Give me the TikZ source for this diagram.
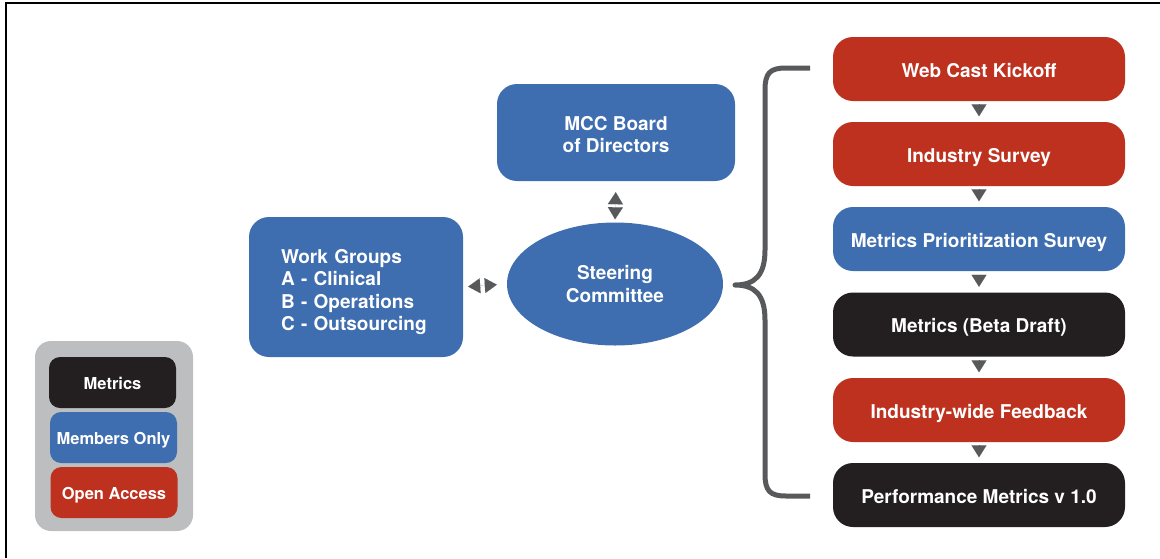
\documentclass[tikz,border=0pt]{standalone}
\usepackage{fontspec}
\setmainfont{TeX Gyre Heros}
\usetikzlibrary{arrows.meta,shapes.geometric}
\definecolor{cred}{RGB}{190,49,30}
\definecolor{cblue}{RGB}{63,110,176}
\definecolor{cblack}{RGB}{35,31,32}
\definecolor{cgray}{RGB}{88,89,91}
\definecolor{lgray}{RGB}{189,190,192}
\tikzset{
  box/.style={rounded corners=20pt, text=white, align=center, inner sep=0pt,
    font=\bfseries\fontsize{19}{22.5}\selectfont},
  stagebox/.style={box, minimum width=292pt, minimum height=64pt, text height=16pt, text depth=0pt},
  legbox/.style={box, rounded corners=11pt, minimum width=127pt, minimum height=51pt,
    font=\bfseries\fontsize{16.5}{19}\selectfont, text height=13pt, text depth=0pt},
  tri/.style={draw=cgray, line width=0.05pt},
  tip/.tip={Triangle[width=15pt,length=12pt]},
}
\begin{document}
\begin{tikzpicture}[x=1pt,y=-1pt]
\useasboundingbox (0,0) rectangle (1160,558);
\draw[line width=1.3pt] (6,558) -- (6,3) -- (1160,3);

% stages
\node[stagebox, fill=cred]   (s1) at (979,69)  {Web Cast Kickoff};
\node[stagebox, fill=cred]   (s2) at (979,154) {Industry Survey};
\node[stagebox, fill=cblue]  (s3) at (979,239) {Metrics Prioritization Survey};
\node[stagebox, fill=cblack] (s4) at (979,324.5) {Metrics (Beta Draft)};
\node[stagebox, fill=cred]   (s5) at (979,410) {Industry-wide Feedback};
\node[stagebox, fill=cblack] (s6) at (979,495) {Performance Metrics v 1.0};

\foreach \a/\b in {s1/s2,s2/s3,s3/s4,s4/s5,s5/s6}
  \draw[tri, -tip, shorten <=3.5pt, shorten >=5.5pt] (\a.south) -- (\b.north);

% center
\node[box, fill=cblue, minimum width=238pt, minimum height=97pt] (mcc) at (616,132.5) {\rule{0pt}{18pt}MCC Board\\of Directors};
\node[ellipse, fill=cblue, text=white, inner sep=0pt, minimum width=216pt, minimum height=123pt,
  font=\bfseries\fontsize{19}{22.5}\selectfont, align=center] (sc) at (615,284) {Steering\\Committee};
\node[box, fill=cblue, minimum width=214pt, minimum height=140pt, align=left, text width=150pt] (wg) at (356,287)
  {\rule{0pt}{24pt}Work Groups\\A - Clinical\\B - Operations\\C - Outsourcing};

\draw[tri, tip-tip, shorten <=11pt, shorten >=3pt] (mcc.south) -- (sc.north);
\draw[tri, tip-tip, shorten <=5pt, shorten >=10pt] (wg.east) -- (sc.west);

% brace
\coordinate (bt) at (810,68);
\coordinate (bb) at (810,496);
\coordinate (bp) at (735,285);
\draw[cgray, line width=5pt, line join=round]
  (bt) -- (786,68) .. controls (770,68) and (765,73) .. (765,90)
  -- (765,250) .. controls (765,275) and (755,285) .. (bp)
  .. controls (755,285) and (765,295) .. (765,320)
  -- (765,474) .. controls (765,491) and (770,496) .. (786,496) -- (bb);

% legend
\node[fill=lgray, rounded corners=16pt, minimum width=158pt, minimum height=190pt, inner sep=0pt] (leg) at (114,436) {};
\node[legbox, fill=cblack] (l1) at (112.5,382.5) {Metrics};
\node[legbox, fill=cblue]  (l2) at (113.5,437.5) {Members Only};
\node[legbox, fill=cred]   (l3) at (114,492.5) {Open Access};
\end{tikzpicture}
\end{document}
